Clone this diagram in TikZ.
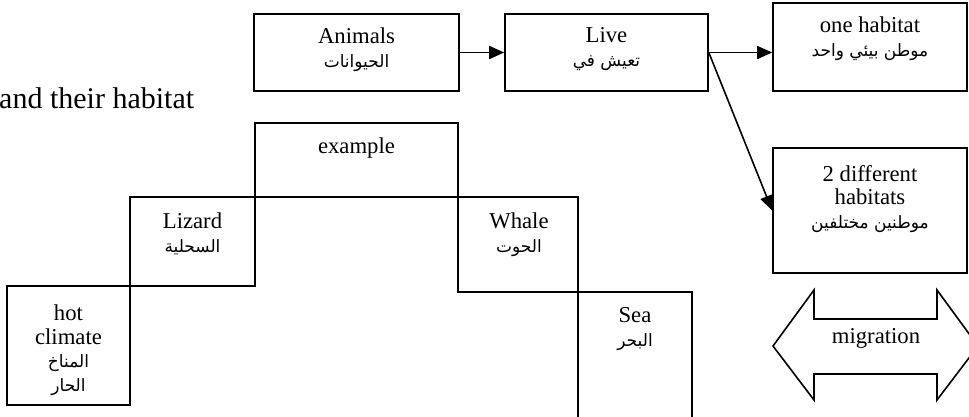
\documentclass[tikz,border=0pt]{standalone}
\usepackage{fontspec}
\setmainfont{Liberation Serif}
\newfontfamily\arabicfont[Script=Arabic]{DejaVu Sans}
\TeXXeTstate=1
\usetikzlibrary{arrows.meta}
\newcommand{\AR}[1]{{\fontsize{17}{23}\selectfont\arabicfont\beginR #1\endR}}
\begin{document}
\begin{tikzpicture}[x=1pt,y=-1pt,
  box/.style={draw,line width=1.6pt,inner sep=0pt},
  txt/.style={anchor=base,align=center,inner sep=0pt,font=\fontsize{22.7}{23.5}\selectfont},
  conn/.style={line width=1.6pt,-{Triangle[length=15pt,width=13pt]}}]
\useasboundingbox (0,0) rectangle (969,416);
\clip (0,0) rectangle (969,416);
% title
\node[anchor=base west,inner sep=0pt,font=\fontsize{30}{34}\selectfont] (title) at (-1,108) {and their habitat};
% top flow
\node[box,minimum width=205pt,minimum height=77pt] (animals) at (356.5,52.5) {};
\node[txt] (animalsT) at (356.5,67) {Animals\\\AR{الحيوانات}};
\node[box,minimum width=203pt,minimum height=77pt] (live) at (606.5,52.5) {};
\node[txt] (liveT) at (606.5,66) {Live\\\AR{تعيش في}};
\node[box,minimum width=194pt,minimum height=88pt] (one) at (870,47) {};
\node[txt] (oneT) at (870,56) {one habitat\\\AR{موطن بيئي واحد}};
\node[box,minimum width=194pt,minimum height=125pt] (two) at (870,210.5) {};
\node[txt] (twoT) at (870,228) {2 different\\habitats\\\AR{موطنين مختلفين}};
\draw[conn] (animals.east) -- (live.west);
\draw[conn] (live.east) -- (live.east -| one.west);
\draw[conn] (live.east) -- (two.west);
% staircase
\node[box,minimum width=203pt,minimum height=74pt] (example) at (356.5,160) {};
\node[txt] (exampleT) at (356.5,153) {example};
\node[box,minimum width=125pt,minimum height=89pt] (lizard) at (192.5,241.5) {};
\node[txt] (lizardT) at (192.5,252) {Lizard\\\AR{السحلية}};
\node[box,minimum width=120pt,minimum height=95pt] (whale) at (518,244.5) {};
\node[txt] (whaleT) at (519,252) {Whale\\\AR{الحوت}};
\node[box,minimum width=123pt,minimum height=119pt] (hot) at (68.5,345.5) {};
\node[txt] (hotT) at (68.5,391) {hot\\climate\\\AR{المناخ}\\\AR{الحار}};
\node[box,minimum width=114pt,minimum height=140pt] (sea) at (635,362) {};
\node[txt] (seaT) at (635,346) {Sea\\\AR{البحر}};
% migration double arrow
\draw[line width=1.6pt] (773,346) -- (814,290) -- (814,319) -- (937,319) -- (937,290) -- (978,346) -- (937,400) -- (937,374) -- (814,374) -- (814,400) -- cycle;
\node[txt] (migT) at (876,343) {migration};
\end{tikzpicture}
\end{document}
